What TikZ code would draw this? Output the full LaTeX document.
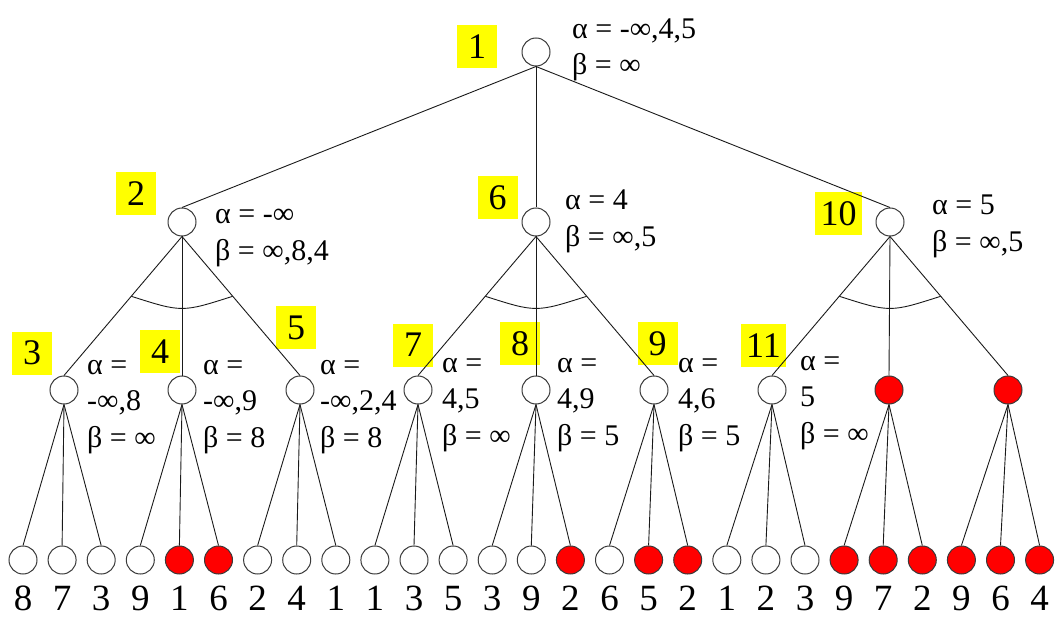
\documentclass[tikz,border=0pt]{standalone}
\usepackage{fontspec}
\setmainfont{Liberation Serif}
\usetikzlibrary{calc}
\definecolor{Cut}{HTML}{FF0000}
\definecolor{Edge}{HTML}{1A1A1A}
\definecolor{Rim}{HTML}{3A3A3A}
\definecolor{Tag}{HTML}{FFFF00}

\begin{document}
\begin{tikzpicture}[x=1pt,y=-1pt,
  open/.style={circle,draw=Rim,line width=1pt,fill=white,minimum size=28pt,inner sep=0pt},
  cut/.style={open,fill=Cut},
  tag/.style={fill=Tag,minimum width=40pt,minimum height=43pt,inner xsep=5.5pt,inner ysep=0pt,font=\fontsize{36}{36}\selectfont},
  info/.style={anchor=west,align=left,inner sep=0pt,font=\fontsize{30}{36.5}\selectfont},
  leaf/.style={anchor=base,inner sep=0pt,font=\fontsize{37}{37}\selectfont},
  link/.style={Edge,line width=0.9pt}]
  \useasboundingbox (0,0) rectangle (1059,617);
  % yellow step numbers
  \foreach \x/\y/\t in {477/46.5/1,136/194/2,32/353/3,160/351.5/4,296/327.5/5,497.5/198/6,
    413/345/7,520/343.5/8,657.5/343.5/9,838.5/213.5/10,763.5/345.5/11}
    \node[tag] (k\t) at (\x,\y) {\t};
  % root and first level
  \node[open] (r) at (536,52) {};
  \foreach \x [count=\j] in {182,536,890} {
    \node[open] (m\j) at (\x,222) {};
    \draw[link] (r.south) -- (m\j.north);
  }
  % second level
  \foreach \x/\s [count=\j] in {64/open,182/open,300/open,418/open,536/open,654/open,772/open,889/cut,1008/cut} {
    \node[\s] (n\j) at (\x,390) {};
    \pgfmathtruncatemacro\p{(\j-1)/3+1}
    \draw[link] (m\p.south) -- (n\j.north);
  }
  % leaves and their values
  \foreach \v/\s [count=\i from 0] in {8/open,7/open,3/open,9/open,1/cut,6/cut,2/open,4/open,1/open,
    1/open,3/open,5/open,3/open,9/open,2/cut,6/open,5/cut,2/cut,
    1/open,2/open,3/open,9/cut,7/cut,2/cut,9/cut,6/cut,4/cut} {
    \pgfmathtruncatemacro\p{\i/3+1}
    \node[\s] (l\i) at ({23+39.1*\i},560) {};
    \draw[link] (n\p.south) -- (l\i.north);
    \node[leaf] (v\i) at ({23+39.1*\i},610) {\v};
  }
  % cut-off arcs
  \foreach \a/\b/\c in {m1/n1/n3,m2/n4/n6,m3/n7/n9}
    \draw[link] ($(\a.south)!0.43!(\b.north)$) .. controls ($(\a.south)+(0,76)$) .. ($(\a.south)!0.43!(\c.north)$);
  % alpha and beta values
  \node[info] (t1) at (572,50) {α = -∞,4,5\\β = ∞};
  \node[info] (t2) at (215,238) {α = -∞\\β = ∞,8,4};
  \node[info] (t6) at (565,221.5) {α = 4\\β = ∞,5};
  \node[info] (t10) at (932,226.5) {α = 5\\β = ∞,5};
  \node[info] (t3) at (87,407) {α =\\-∞,8\\β = ∞};
  \node[info] (t4) at (203,407) {α =\\-∞,9\\β = 8};
  \node[info] (t5) at (320,407) {α =\\-∞,2,4\\β = 8};
  \node[info] (t7) at (442,405) {α =\\4,5\\β = ∞};
  \node[info] (t8) at (557,405) {α =\\4,9\\β = 5};
  \node[info] (t9) at (678,405) {α =\\4,6\\β = 5};
  \node[info] (t11) at (800,403) {α =\\5\\β = ∞};
\end{tikzpicture}
\end{document}
